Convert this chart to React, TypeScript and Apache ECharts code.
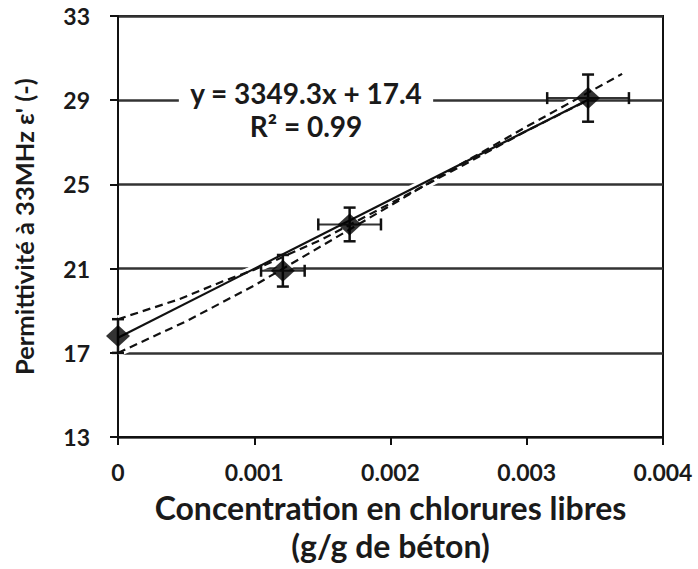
import React, { useEffect, useRef } from "react";
import * as echarts from "echarts";

// Measured points (x: g/g de béton, y: permittivity)
const pointX = [0, 0.00121, 0.0017, 0.00345];
const pointY = [17.8, 20.9, 23.1, 29.1];
const errX = [0, 0.00016, 0.00023, 0.0003];
const errY = [0.8, 0.75, 0.8, 1.12];

// Trend line (solid)
const fitX = [0, 0.00345];
const fitY = [17.72, 29.02];

// Dashed bounding lines
const upperX = [0, 0.00045, 0.00077, 0.001, 0.0015, 0.002, 0.0025, 0.003, 0.00345];
const upperY = [18.6, 19.55, 20.4, 20.95, 22.4, 24.1, 25.8, 27.55, 29.0];
const lowerX = [0, 0.0005, 0.001, 0.0015, 0.002, 0.0025, 0.003, 0.0037];
const lowerY = [17.0, 18.5, 20.2, 22.1, 24.0, 25.9, 27.75, 30.25];

const xTicks = [0, 0.001, 0.002, 0.003, 0.004];
const yTicks = [13, 17, 21, 25, 29, 33];

const equationText = "y = 3349.3x + 17.4";
const r2Text = "R² = 0.99";
const xTitle = "Concentration en chlorures libres\n(g/g de béton)";
const yTitle = "Permittivité à 33MHz ε' (-)";

const FONT = "Lato, 'Open Sans', sans-serif";

function zip(xs: number[], ys: number[]) {
  return xs.map((x, i) => [x, ys[i]]);
}

export default function App() {
  const ref = useRef<HTMLDivElement>(null);
  useEffect(() => {
    if (!ref.current) return;
    const chart = echarts.init(ref.current, null, { renderer: "svg" });
    const errData = pointX.map((x, i) => [x, pointY[i], errX[i], errY[i]]);
    const halo = { color: "#ffffff", width: 8 };
    chart.setOption({
      animation: false,
      backgroundColor: "#ffffff",
      grid: {
        left: 118,
        right: 35,
        top: 16,
        bottom: 116,
        show: true,
        borderColor: "#111",
        borderWidth: 2,
      },
      xAxis: {
        type: "value",
        min: xTicks[0],
        max: xTicks[xTicks.length - 1],
        interval: xTicks[1] - xTicks[0],
        name: xTitle,
        nameLocation: "middle",
        nameGap: 45,
        nameTextStyle: {
          fontFamily: FONT,
          fontSize: 32,
          fontWeight: "bold",
          color: "#1a1a1a",
          lineHeight: 38,
        },
        axisLine: { lineStyle: { color: "#111", width: 2 } },
        axisTick: { show: true, inside: false, length: 8, lineStyle: { color: "#111", width: 2 } },
        axisLabel: {
          margin: 23,
          fontFamily: FONT,
          fontSize: 23,
          fontWeight: "bold",
          color: "#1a1a1a",
          formatter: (v: number) => String(+v.toFixed(3)),
        },
        splitLine: { show: false },
      },
      yAxis: {
        type: "value",
        min: yTicks[0],
        max: yTicks[yTicks.length - 1],
        interval: yTicks[1] - yTicks[0],
        name: yTitle,
        nameLocation: "middle",
        nameGap: 81,
        nameTextStyle: {
          fontFamily: FONT,
          fontSize: 25.5,
          fontWeight: "bold",
          color: "#1a1a1a",
        },
        axisLine: { lineStyle: { color: "#111", width: 2 } },
        axisTick: { show: true, inside: false, length: 8, lineStyle: { color: "#111", width: 2 } },
        axisLabel: {
          margin: 28,
          fontFamily: FONT,
          fontSize: 23,
          fontWeight: "bold",
          color: "#1a1a1a",
        },
        splitLine: { show: true, lineStyle: { color: "#333", width: 2.5 } },
      },
      graphic: [
        {
          type: "text",
          x: 306,
          y: 74,
          z: 10,
          style: {
            text: equationText + "\n" + r2Text,
            fontFamily: FONT,
            fontSize: 28,
            fontWeight: "bold",
            fill: "#1a1a1a",
            lineHeight: 33,
            align: "center",
            verticalAlign: "top",
            backgroundColor: "#ffffff",
            padding: [2, 11],
          },
        },
      ],
      series: [
        { type: "line", data: zip(fitX, fitY), symbol: "none", lineStyle: halo, z: 1, silent: true },
        { type: "line", data: zip(upperX, upperY), symbol: "none", lineStyle: halo, z: 1, silent: true },
        { type: "line", data: zip(lowerX, lowerY), symbol: "none", lineStyle: halo, z: 1, silent: true },
        {
          type: "line",
          data: zip(fitX, fitY),
          symbol: "none",
          lineStyle: { color: "#111", width: 2.2 },
          z: 3,
        },
        {
          type: "line",
          data: zip(upperX, upperY),
          symbol: "none",
          lineStyle: { color: "#111", width: 2.2, type: [8, 5] },
          z: 3,
        },
        {
          type: "line",
          data: zip(lowerX, lowerY),
          symbol: "none",
          lineStyle: { color: "#111", width: 2.2, type: [8, 5] },
          z: 3,
        },
        {
          type: "custom",
          data: errData,
          z: 4,
          clip: false,
          renderItem: (params: any, api: any) => {
            const x = api.value(0);
            const y = api.value(1);
            const ex = api.value(2);
            const ey = api.value(3);
            const top = api.coord([x, y + ey]);
            const bot = api.coord([x, y - ey]);
            const left = api.coord([x - ex, y]);
            const right = api.coord([x + ex, y]);
            const cap = 6;
            const st = { stroke: "#111", lineWidth: 2.5 };
            const children: any[] = [
              { type: "line", shape: { x1: top[0], y1: top[1], x2: bot[0], y2: bot[1] }, style: st },
              { type: "line", shape: { x1: top[0] - cap, y1: top[1], x2: top[0] + cap, y2: top[1] }, style: st },
              { type: "line", shape: { x1: bot[0] - cap, y1: bot[1], x2: bot[0] + cap, y2: bot[1] }, style: st },
            ];
            if (ex > 0) {
              children.push(
                { type: "line", shape: { x1: left[0], y1: left[1], x2: right[0], y2: right[1] }, style: { stroke: "#333", lineWidth: 2 } },
                { type: "line", shape: { x1: left[0], y1: left[1] - cap, x2: left[0], y2: left[1] + cap }, style: st },
                { type: "line", shape: { x1: right[0], y1: right[1] - cap, x2: right[0], y2: right[1] + cap }, style: st }
              );
            }
            return { type: "group", children };
          },
        },
        {
          type: "scatter",
          data: zip(pointX, pointY),
          symbol: "diamond",
          symbolSize: [24, 22],
          itemStyle: { color: "#000" },
          z: 5,
          clip: false,
        },
      ],
    });
    return () => chart.dispose();
  }, []);
  return (
    <div
      ref={ref}
      style={{ position: "absolute", left: 0, top: 0, width: 698, height: 569 }}
    />
  );
}
